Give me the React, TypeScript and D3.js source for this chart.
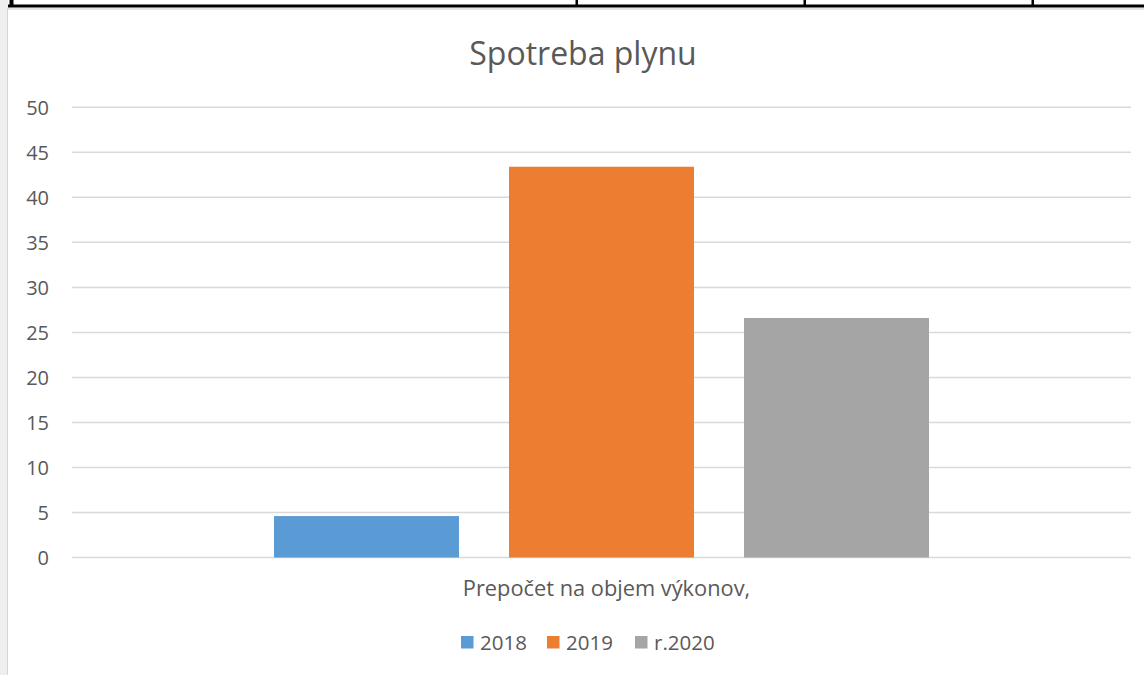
import React from "react";
import * as d3 from "d3";

const title = "Spotreba plynu";
const categories = ["Prepočet na objem výkonov,"];
const seriesNames = ["2018", "2019", "r.2020"];
const seriesColors = ["#5B9BD5", "#ED7D31", "#A5A5A5"];
const values2018 = [4.6];
const values2019 = [43.4];
const values2020 = [26.6];
const yTicks = [0, 5, 10, 15, 20, 25, 30, 35, 40, 45, 50];
const tableColumnEdges = [11, 577, 805, 1033];

export default function App() {
  const W = 1144, H = 675;
  const plot = { left: 72, right: 1131, top: 107.3, bottom: 557.5 };
  const y = d3.scaleLinear().domain([0, 50]).range([plot.bottom, plot.top]);
  const x0 = d3.scaleBand<string>().domain(categories).range([plot.left, plot.right]).paddingInner(0).paddingOuter(0.3084);
  const x1 = d3.scaleBand<string>().domain(seriesNames).range([0, x0.bandwidth()]).paddingInner(0.2128).paddingOuter(0);
  const series = [values2018, values2019, values2020];
  const font = "'Open Sans', 'Noto Sans', sans-serif";
  const textColor = "#595959";

  const legendItems = [
    { name: seriesNames[0], color: seriesColors[0], x: 461 },
    { name: seriesNames[1], color: seriesColors[1], x: 547 },
    { name: seriesNames[2], color: seriesColors[2], x: 635 },
  ];

  return (
    <svg width={W} height={H} style={{ position: "absolute", left: 0, top: 0, display: "block", background: "#fff" }} fontFamily={font}>
      {/* page chrome: table border and left edge */}
      <rect x={0} y={0} width={8} height={H} fill="#efefef" />
      <rect x={7} y={8} width={1} height={H - 8} fill="#d6d6d6" />
      <rect x={8} y={8} width={W - 8} height={2} fill="#e3e3e3" />
      <rect x={8} y={4.5} width={W - 8} height={3} fill="#000" />
      {tableColumnEdges.map((cx, i) => (
        <rect key={i} x={cx - 1.5} y={0} width={i === 0 ? 4 : 2.5} height={6} fill="#000" />
      ))}

      {/* title */}
      <text x={583} y={65} textAnchor="middle" fontSize={32} fill={textColor}>{title}</text>

      {/* gridlines */}
      {yTicks.map((t) => (
        <line key={t} x1={plot.left} x2={plot.right} y1={y(t)} y2={y(t)} stroke="#d9d9d9" strokeWidth={1.5} />
      ))}
      {/* y labels */}
      {yTicks.map((t) => (
        <text key={t} x={49} y={y(t)} dy="0.36em" textAnchor="end" fontSize={20} fill={textColor}>{t}</text>
      ))}

      {/* bars */}
      {categories.map((c, ci) =>
        series.map((vals, si) => {
          const bx = (x0(c) ?? 0) + (x1(seriesNames[si]) ?? 0);
          return (
            <rect key={`${ci}-${si}`} x={bx} y={y(vals[ci])} width={x1.bandwidth()} height={y(0) - y(vals[ci])} fill={seriesColors[si]} />
          );
        })
      )}

      {/* category label */}
      {categories.map((c) => (
        <text key={c} x={(x0(c) ?? 0) + x0.bandwidth() / 2 + 5} y={596} textAnchor="middle" fontSize={21.8} fill={textColor}>{c}</text>
      ))}

      {/* legend */}
      {legendItems.map((it) => (
        <g key={it.name}>
          <rect x={it.x} y={636} width={12.5} height={12.5} fill={it.color} />
          <text x={it.x + 19} y={649.5} fontSize={20.5} fill={textColor}>{it.name}</text>
        </g>
      ))}
    </svg>
  );
}
